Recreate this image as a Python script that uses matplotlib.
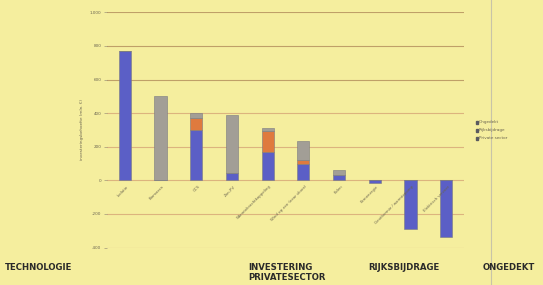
import matplotlib.pyplot as plt
import numpy as np

categories = ['Isolatie', 'Biomassa', 'CCS', 'Zon-PV', 'Warmtekrachtkoppeling',
              'Wind op zee (near shore)', 'Kolen', 'Kernenergie',
              'Geothermie / warmtepomp', 'Elektrisch vervoer']
private = [770, 0, 300, 43, 168, 100, 30, -15, -290, -340]
rijks = [0, 0, 71, 0, 125, 20, 0, 0, 0, 0]
ongedekt = [0, 500, 32, 348, 20, 114, 34, 0, 0, 0]
yticks = [-400, -200, 0, 200, 400, 600, 800, 1000]
ytick_labels = ['-400', '-200', '0', '200', '400', '600', '800', '1.000']
legend_labels = ['Ongedekt', 'Rijksbijdrage', 'Private sector']

bg = '#f5ee9e'
blue = '#5b5fc6'
orange = '#df7a3e'
gray = '#a29e96'

fig = plt.figure(figsize=(5.43, 2.85), dpi=100, facecolor=bg)
ax = fig.add_axes([107 / 543, 1 - 247.5 / 285, 357 / 543, 235.2 / 285])
ax.set_facecolor(bg)

x = np.arange(len(categories))
private = np.array(private)
rijks = np.array(rijks)
ongedekt = np.array(ongedekt)
w = 0.34
kw = dict(width=w, edgecolor='#7a7a80', linewidth=0.4, zorder=3)
ax.bar(x, private, color=blue, **kw)
ax.bar(x, rijks, bottom=np.clip(private, 0, None), color=orange, **kw)
ax.bar(x, ongedekt, bottom=np.clip(private, 0, None) + rijks, color=gray, **kw)

ax.set_xlim(-0.5, len(categories) - 0.5)
ax.set_ylim(-400, 1000)
ax.set_yticks(yticks)
ax.set_yticklabels(ytick_labels, fontsize=3, color='#6a6450')
ax.tick_params(axis='y', length=2, width=0.4, color='#8a8070', pad=2)
ax.set_xticks([])
for s in ax.spines.values():
    s.set_visible(False)
for t in yticks:
    c = '#bfa068' if t >= 600 else '#dcb47e'
    ax.axhline(t, color=c, lw=0.8, zorder=1)

for i, name in enumerate(categories):
    ax.text(i + 0.05, -25, name, rotation=45, ha='right', va='top',
            fontsize=2.8, color='#6a6450', rotation_mode='anchor')

fig.text(82 / 543, 1 - 130 / 285, 'investeringsbehoefte (mln. €)', rotation=90,
         ha='center', va='center', fontsize=3, color='#6a6450')

for j, (lab, col) in enumerate(zip(legend_labels, [gray, orange, blue])):
    yy = 1 - (122 + 8 * j) / 285
    fig.patches.append(plt.Rectangle((476 / 543, yy - 0.006), 0.004, 0.009,
                                     transform=fig.transFigure, color='#5a5a60'))
    fig.text(479 / 543, yy, lab, fontsize=3, color='#6a6450', va='center')

fig.add_artist(plt.Line2D([491 / 543, 491 / 543], [0, 1], color='#c8c4a8', lw=0.8))

lab_kw = dict(fontsize=6.8, fontweight='bold', family='DejaVu Sans',
              fontstretch='condensed', color='#2a2a2a', va='center')
fig.text(5 / 543, 1 - 267 / 285, 'TECHNOLOGIE', **lab_kw)
fig.text(248 / 543, 1 - 272.5 / 285, 'INVESTERING\nPRIVATESECTOR', linespacing=1.0, **lab_kw)
fig.text(368 / 543, 1 - 267 / 285, 'RIJKSBIJDRAGE', **lab_kw)
fig.text(483 / 543, 1 - 267 / 285, 'ONGEDEKT', **lab_kw)

fig.savefig('out.png', dpi=100, facecolor=bg)
